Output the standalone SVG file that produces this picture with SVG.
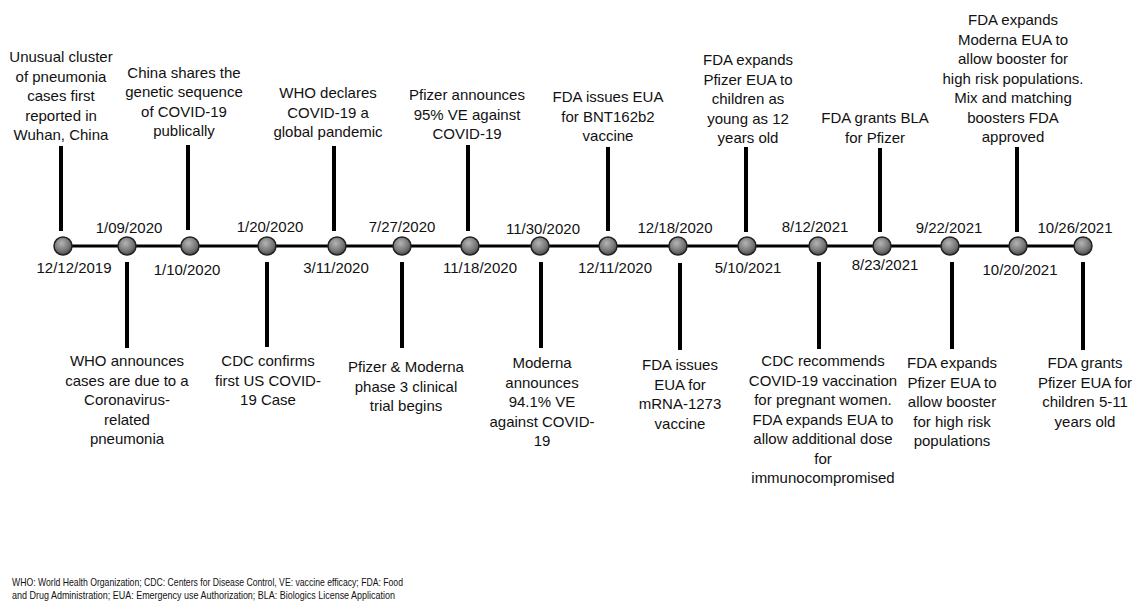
<svg xmlns="http://www.w3.org/2000/svg" width="1133" height="602" viewBox="0 0 1133 602">
<defs>
<radialGradient id="ball" cx="0.42" cy="0.35" r="0.7">
<stop offset="0" stop-color="#b4b4b4"/>
<stop offset="0.6" stop-color="#777777"/>
<stop offset="1" stop-color="#444444"/>
</radialGradient>
</defs>
<style>
text{font-family:"Liberation Sans",Arial,sans-serif;font-size:15px;fill:#111;text-anchor:middle}
.foot{font-size:11.5px;text-anchor:start}
.stem{stroke:#000;stroke-width:4;fill:none}
.axis{stroke:#000;stroke-width:3;fill:none}
.dot{fill:url(#ball);stroke:#222;stroke-width:1.5}
</style>
<rect width="1133" height="602" fill="#fff"/>
<g id="connectors">
<line class="axis" x1="63" y1="246" x2="1083" y2="246"/>
<line class="stem" x1="61" y1="146" x2="61" y2="231"/>
<line class="stem" x1="188" y1="145" x2="188" y2="230"/>
<line class="stem" x1="334" y1="146" x2="334" y2="231"/>
<line class="stem" x1="468" y1="145" x2="468" y2="231"/>
<line class="stem" x1="608" y1="147" x2="608" y2="231"/>
<line class="stem" x1="746" y1="147" x2="746" y2="232"/>
<line class="stem" x1="880" y1="148" x2="880" y2="232"/>
<line class="stem" x1="1017" y1="147" x2="1017" y2="232"/>
<line class="stem" x1="127" y1="262" x2="127" y2="348"/>
<line class="stem" x1="267" y1="262" x2="267" y2="347"/>
<line class="stem" x1="402" y1="262" x2="402" y2="348"/>
<line class="stem" x1="541" y1="262" x2="541" y2="348"/>
<line class="stem" x1="680" y1="263" x2="680" y2="350"/>
<line class="stem" x1="819" y1="262" x2="819" y2="349"/>
<line class="stem" x1="952" y1="262" x2="952" y2="349"/>
<line class="stem" x1="1083" y1="262" x2="1083" y2="350"/>
</g>
<g id="e20191212">
<circle class="dot" cx="63" cy="246" r="9"/>
<text x="74" y="273">12/12/2019</text>
<text x="61" y="62">Unusual cluster</text>
<text x="61" y="81.5">of pneumonia</text>
<text x="61" y="101">cases first</text>
<text x="61" y="120.5">reported in</text>
<text x="61" y="140">Wuhan, China</text>
</g>
<g id="e20200109">
<circle class="dot" cx="127" cy="246" r="9"/>
<text x="129" y="233">1/09/2020</text>
<text x="127" y="366">WHO announces</text>
<text x="127" y="385.5">cases are due to a</text>
<text x="127" y="405">Coronavirus-</text>
<text x="127" y="424.5">related</text>
<text x="127" y="444">pneumonia</text>
</g>
<g id="e20200110">
<circle class="dot" cx="190" cy="246" r="9"/>
<text x="187" y="275">1/10/2020</text>
<text x="184" y="77.5">China shares the</text>
<text x="184" y="97">genetic sequence</text>
<text x="184" y="116.5">of COVID-19</text>
<text x="184" y="136">publically</text>
</g>
<g id="e20200120">
<circle class="dot" cx="267" cy="246" r="9"/>
<text x="270" y="232">1/20/2020</text>
<text x="268" y="366">CDC confirms</text>
<text x="268" y="385.5">first US COVID-</text>
<text x="268" y="405">19 Case</text>
</g>
<g id="e20200311">
<circle class="dot" cx="337" cy="246" r="9"/>
<text x="336" y="273">3/11/2020</text>
<text x="328" y="98">WHO declares</text>
<text x="328" y="117.5">COVID-19 a</text>
<text x="328" y="137">global pandemic</text>
</g>
<g id="e20200727">
<circle class="dot" cx="402" cy="246" r="9"/>
<text x="402" y="232">7/27/2020</text>
<text x="406" y="372">Pfizer &amp; Moderna</text>
<text x="406" y="391.5">phase 3 clinical</text>
<text x="406" y="411">trial begins</text>
</g>
<g id="e20201118">
<circle class="dot" cx="470" cy="246" r="9"/>
<text x="480" y="273">11/18/2020</text>
<text x="467" y="100">Pfizer announces</text>
<text x="467" y="119.5">95% VE against</text>
<text x="467" y="139">COVID-19</text>
</g>
<g id="e20201130">
<circle class="dot" cx="540" cy="246" r="9"/>
<text x="543" y="234">11/30/2020</text>
<text x="542" y="368">Moderna</text>
<text x="542" y="387.5">announces</text>
<text x="542" y="407">94.1% VE</text>
<text x="542" y="426.5">against COVID-</text>
<text x="542" y="446">19</text>
</g>
<g id="e20201211">
<circle class="dot" cx="608" cy="246" r="9"/>
<text x="615" y="273">12/11/2020</text>
<text x="608" y="102">FDA issues EUA</text>
<text x="608" y="121.5">for BNT162b2</text>
<text x="608" y="141">vaccine</text>
</g>
<g id="e20201218">
<circle class="dot" cx="678" cy="246" r="9"/>
<text x="675" y="233">12/18/2020</text>
<text x="680" y="370">FDA issues</text>
<text x="680" y="389.5">EUA for</text>
<text x="680" y="409">mRNA-1273</text>
<text x="680" y="428.5">vaccine</text>
</g>
<g id="e20210510">
<circle class="dot" cx="747" cy="246" r="9"/>
<text x="748" y="273">5/10/2021</text>
<text x="748" y="65">FDA expands</text>
<text x="748" y="84.5">Pfizer EUA to</text>
<text x="748" y="104">children as</text>
<text x="748" y="123.5">young as 12</text>
<text x="748" y="143">years old</text>
</g>
<g id="e20210812">
<circle class="dot" cx="818" cy="246" r="9"/>
<text x="815" y="232">8/12/2021</text>
<text x="823" y="366">CDC recommends</text>
<text x="823" y="385.5">COVID-19 vaccination</text>
<text x="823" y="405">for pregnant women.</text>
<text x="823" y="424.5">FDA expands EUA to</text>
<text x="823" y="444">allow additional dose</text>
<text x="823" y="463.5">for</text>
<text x="823" y="483">immunocompromised</text>
</g>
<g id="e20210823">
<circle class="dot" cx="882" cy="246" r="9"/>
<text x="885" y="270">8/23/2021</text>
<text x="875" y="123">FDA grants BLA</text>
<text x="875" y="142.5">for Pfizer</text>
</g>
<g id="e20210922">
<circle class="dot" cx="950" cy="246" r="9"/>
<text x="949" y="233">9/22/2021</text>
<text x="952" y="368">FDA expands</text>
<text x="952" y="387.5">Pfizer EUA to</text>
<text x="952" y="407">allow booster</text>
<text x="952" y="426.5">for high risk</text>
<text x="952" y="446">populations</text>
</g>
<g id="e20211020">
<circle class="dot" cx="1018" cy="246" r="9"/>
<text x="1020" y="275">10/20/2021</text>
<text x="1013" y="25">FDA expands</text>
<text x="1013" y="44.5">Moderna EUA to</text>
<text x="1013" y="64">allow booster for</text>
<text x="1013" y="83.5">high risk populations.</text>
<text x="1013" y="103">Mix and matching</text>
<text x="1013" y="122.5">boosters FDA</text>
<text x="1013" y="142">approved</text>
</g>
<g id="e20211026">
<circle class="dot" cx="1083" cy="246" r="9"/>
<text x="1075" y="233">10/26/2021</text>
<text x="1085" y="368">FDA grants</text>
<text x="1085" y="387.5">Pfizer EUA for</text>
<text x="1085" y="407">children 5-11</text>
<text x="1085" y="426.5">years old</text>
</g>
<g id="footnote">
<text class="foot" x="12" y="586" textLength="391" lengthAdjust="spacingAndGlyphs">WHO: World Health Organization; CDC: Centers for Disease Control, VE: vaccine efficacy; FDA: Food</text>
<text class="foot" x="12" y="599" textLength="383" lengthAdjust="spacingAndGlyphs">and Drug Administration; EUA: Emergency use Authorization; BLA: Biologics License Application</text>
</g>
</svg>
